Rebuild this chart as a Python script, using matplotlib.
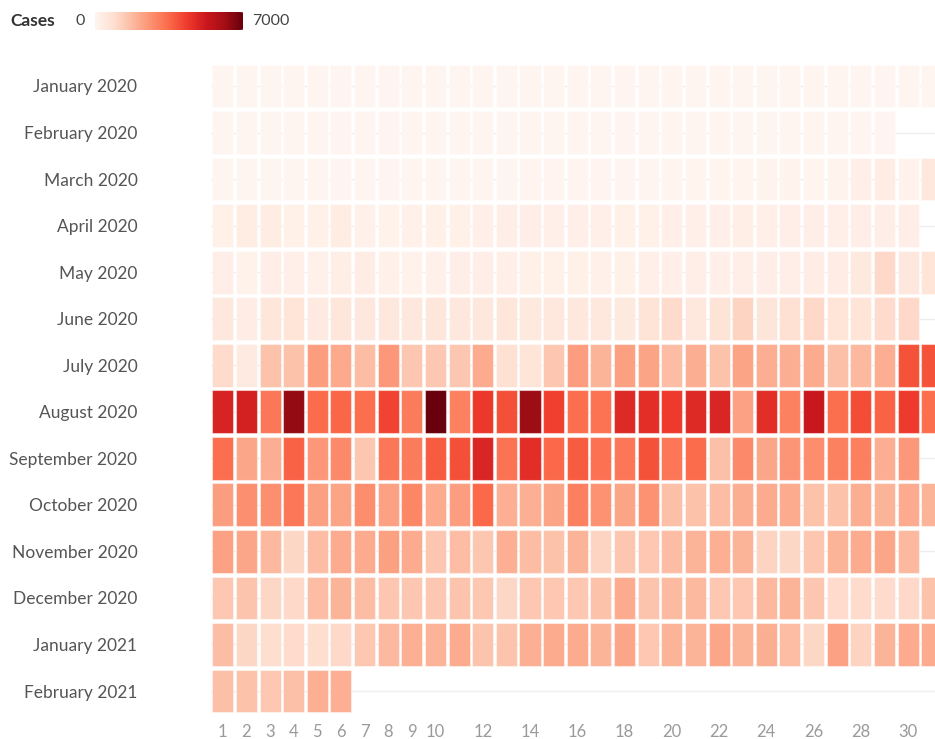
import numpy as np
import matplotlib.pyplot as plt
from matplotlib import colors
from matplotlib.patches import FancyBboxPatch

plt.rcParams['font.family'] = ['Lato', 'DejaVu Sans']

# rows of the calendar (top to bottom)
months = ["January 2020", "February 2020", "March 2020", "April 2020", "May 2020",
          "June 2020", "July 2020", "August 2020", "September 2020", "October 2020",
          "November 2020", "December 2020", "January 2021", "February 2021"]

# daily cases
jan20 = [0, 0, 0, 0, 0, 0, 0, 0, 0, 0, 0, 0, 0, 0, 0, 0, 0, 0, 0, 0, 0, 0, 0, 0, 0, 0, 0, 0, 0, 1, 0]
feb20 = [0, 1, 0, 0, 1, 0, 0, 0, 0, 0, 0, 0, 0, 0, 0, 0, 0, 0, 0, 0, 0, 0, 0, 0, 0, 0, 0, 0, 0]
mar20 = [0, 0, 0, 0, 0, 2, 1, 4, 14, 9, 16, 3, 12, 47, 29, 47, 45, 15, 15, 13, 77, 73, 82, 90, 84, 71, 96,
         272, 343, 128, 538]
apr20 = [230, 400, 400, 220, 220, 410, 200, 150, 200, 220, 230, 250, 280, 300, 250, 260, 250, 220,
         220, 250, 250, 270, 320, 250, 280, 300, 250, 280, 280, 300]
may20 = [280, 150, 290, 250, 200, 320, 330, 200, 150, 180, 280, 300, 270, 220, 220, 220, 200, 230,
         270, 250, 280, 260, 280, 300, 280, 350, 380, 500, 1050, 590, 700]
jun20 = [550, 350, 650, 700, 450, 650, 580, 580, 550, 650, 520, 580, 650, 500, 550, 550, 600, 500,
         750, 1000, 580, 750, 1150, 680, 850, 1050, 700, 700, 1000, 1050]
jul20 = [1000, 450, 1600, 1600, 2400, 2150, 1700, 2500, 1500, 1450, 1500, 2100, 850, 700, 1500, 2400,
         1900, 2350, 2250, 1700, 2050, 1600, 2250, 2050, 2050, 2100, 1650, 1800, 2050, 3950, 3950]
aug20 = [4963, 5032, 3226, 6352, 3450, 3560, 3400, 4226, 3100, 6958, 2990, 4444, 4002, 6216, 4300, 3400,
         3300, 4800, 4700, 4400, 4800, 4900, 2300, 4700, 3000, 5300, 3400, 4050, 3650, 4400, 3400]
sep20 = [3400, 2200, 2050, 3650, 2500, 2800, 1500, 3200, 3100, 3750, 4000, 4900, 3300, 4700, 3500, 3750,
         3350, 3200, 3950, 3200, 3450, 1650, 2800, 2200, 2550, 2750, 3000, 3050, 2050, 2500]
oct20 = [2400, 2700, 2700, 3200, 2350, 2250, 2750, 2300, 2850, 2100, 2400, 3500, 2000, 2000, 2250, 3050,
         2650, 2250, 2650, 1650, 1600, 1700, 2050, 2100, 2100, 1600, 1600, 2050, 1900, 2100, 1900]
nov20 = [2300, 2200, 1800, 1100, 1700, 2100, 2100, 2350, 2100, 1500, 1700, 1500, 2000, 1700, 1600, 1900,
         1150, 1500, 1450, 1700, 1900, 2000, 1900, 1200, 1100, 1500, 1900, 2100, 2200, 1800]
dec20 = [1450, 1550, 1100, 1050, 1700, 1900, 1700, 1500, 1500, 1450, 1550, 1450, 1100, 1450, 1450, 1450,
         1600, 2100, 1550, 1750, 1800, 1450, 1450, 1800, 1900, 1500, 1000, 1000, 1000, 1050, 1600]
jan21 = [1700, 1100, 950, 1000, 950, 1050, 1450, 1800, 2000, 1900, 2100, 1550, 1550, 2000, 2100, 2100,
         1900, 2200, 1450, 1900, 1900, 2200, 1900, 2050, 1700, 1100, 2300, 1200, 1900, 2100, 2100]
feb21 = [1650, 1600, 1450, 1650, 2000, 2000]

cases = [jan20, feb20, mar20, apr20, may20, jun20, jul20, aug20, sep20, oct20, nov20, dec20, jan21, feb21]
day_ticks = [1, 2, 3, 4, 5, 6, 7, 8, 9, 10, 12, 14, 16, 18, 20, 22, 24, 26, 28, 30]
vmin, vmax = 0, 7000

cmap = plt.get_cmap("Reds")
norm = colors.Normalize(vmin, vmax)

W, H = 935, 739
fig = plt.figure(figsize=(W / 100, H / 100), dpi=100)
ax = fig.add_axes([211 / W, 1 - 714.3 / H, 1 - 211 / W, (714.3 - 62.7) / H])

for i, row in enumerate(cases):
    days = np.arange(1, len(row) + 1)
    ax.bar(days, 0.92, bottom=i - 0.46, width=0.89, color=cmap(norm(np.array(row))),
           edgecolor=(1, 1, 1, 0.45), linewidth=0.8, zorder=2)

ax.set_xlim(0.5, 31.14)
ax.set_ylim(len(months) - 0.5, -0.5)
ax.set_yticks(range(len(months)))
ax.set_yticklabels(months, fontsize=12.5, color="#555555")
ax.set_xticks(day_ticks)
ax.set_xticklabels([str(d) for d in day_ticks], fontsize=12, color="#9a9a9a")
ax.yaxis.grid(True, color="#eeeeee", lw=1, zorder=0)
ax.set_axisbelow(True)
ax.tick_params(axis="both", length=0)
ax.tick_params(axis="y", pad=53)
ax.tick_params(axis="x", pad=7)
for s in ax.spines.values():
    s.set_visible(False)
for lab in ax.get_yticklabels():
    lab.set_horizontalalignment("right")

# legend
fig.text(10 / W, 1 - 21 / H, "Cases", fontsize=12.5, weight="bold", color="#333333", va="center")
fig.text(75 / W, 1 - 21 / H, str(vmin), fontsize=11.5, color="#444444", va="center")
fig.text(252 / W, 1 - 21 / H, str(vmax), fontsize=11.5, color="#444444", va="center")
cax = fig.add_axes([95 / W, 1 - 30 / H, 148 / W, 18 / H])
grad = np.linspace(vmin, vmax, 256).reshape(1, -1)
im = cax.imshow(grad, cmap=cmap, norm=norm, aspect="auto", extent=[0, 1, 0, 1])
clip = FancyBboxPatch((0, 0), 1, 1, boxstyle="round,pad=0,rounding_size=0.03",
                      transform=cax.transAxes, facecolor="none", edgecolor="none")
cax.add_patch(clip)
im.set_clip_path(clip)
cax.axis("off")

fig.savefig("out.png", dpi=100)
